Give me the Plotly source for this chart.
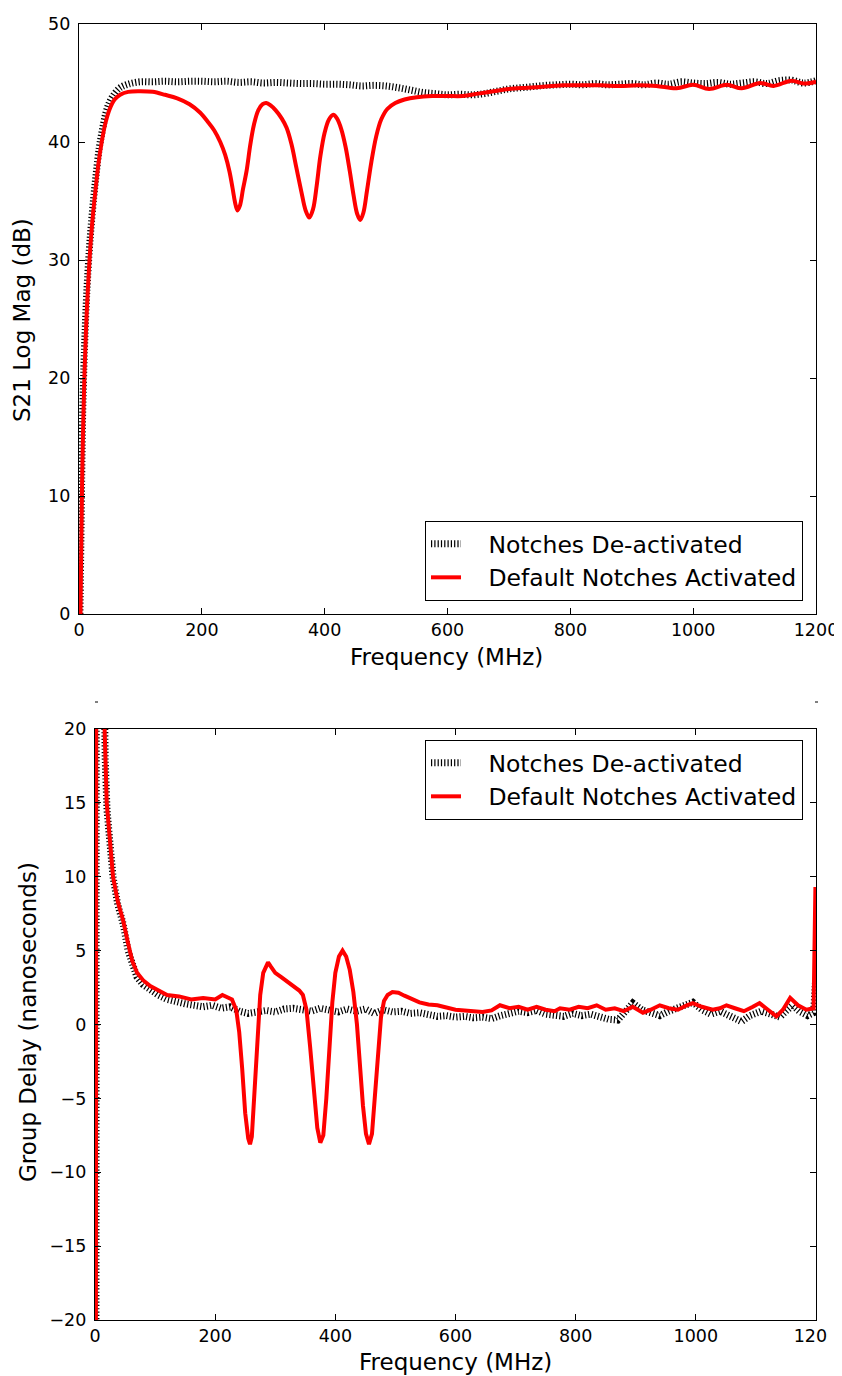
import plotly.graph_objects as go

# S21 magnitude, notches de-activated (MHz, dB)
mag_off_freq = [1.5, 3, 4.5, 6, 8, 10, 12, 14, 17, 20, 24, 28, 33, 38, 44, 50, 58, 67, 80, 99,
                120, 140, 160, 180, 200, 220, 240, 260, 280, 300, 320, 340, 360, 380, 400, 420,
                440, 460, 480, 500, 520, 540, 560, 580, 600, 620, 640, 660, 680, 700, 720, 740,
                760, 780, 800, 820, 840, 860, 880, 900, 920, 940, 960, 980, 1000, 1020, 1040,
                1060, 1080, 1100, 1120, 1140, 1160, 1180, 1200]
mag_off_db = [0, 6, 12, 17, 21, 24, 26.5, 28.5, 31, 33, 35.3, 37.3, 39.5, 41, 42.5, 43.4, 44.1,
              44.6, 44.9, 45.1, 45.1, 45.15, 45.1, 45.15, 45.15, 45.1, 45.15, 45.05, 45.1, 45.0,
              45.05, 45.0, 44.95, 44.95, 44.9, 44.9, 44.85, 44.75, 44.8, 44.75, 44.6, 44.4, 44.2,
              44.1, 44.0, 44.05, 44.0, 44.1, 44.3, 44.5, 44.6, 44.7, 44.8, 44.85, 44.9, 44.85,
              44.95, 44.85, 44.9, 44.95, 44.85, 45.0, 44.9, 45.1, 45.0, 44.95, 45.05, 44.9, 45.0,
              45.1, 44.95, 45.2, 45.25, 45.0, 45.2]

# S21 magnitude, default notches activated (MHz, dB)
mag_on_freq = [2, 3.5, 5, 7, 9, 11, 13, 16, 19, 23, 27, 32, 37, 43, 50, 58, 67, 80, 100, 120,
               140, 160, 180, 197, 210, 220, 230, 238, 245, 250, 254, 258, 262, 267, 273, 279,
               285, 292, 299, 305, 312, 320, 330, 338, 346, 354, 362, 369, 375, 381, 387, 393,
               400, 407, 414, 420, 427, 434, 441, 447, 453, 458, 463, 469, 476, 484, 492, 502,
               515, 530, 550, 575, 600, 625, 650, 675, 700, 730, 760, 790, 820, 850, 880, 910,
               940, 973, 1000, 1026, 1055, 1079, 1109, 1131, 1160, 1180, 1200]
mag_on_db = [-2, 5, 11, 16.5, 20.5, 23.5, 26, 29, 31.5, 34, 36, 38.3, 40, 41.6, 42.8, 43.6, 44.0,
             44.25, 44.3, 44.25, 44.0, 43.7, 43.2, 42.5, 41.7, 41.0, 40.0, 38.9, 37.5, 36.1,
             34.9, 34.2, 34.6, 36.0, 37.6, 39.8, 41.5, 42.7, 43.2, 43.3, 43.1, 42.7, 42.0, 41.2,
             39.8, 37.8, 35.8, 34.2, 33.6, 34.3, 36.3, 38.8, 40.8, 41.9, 42.3, 42.0, 41.1, 39.6,
             37.5, 35.5, 33.9, 33.4, 34.0, 35.9, 38.3, 40.5, 41.9, 42.8, 43.3, 43.6, 43.8, 43.9,
             43.9, 43.9, 44.1, 44.3, 44.5, 44.6, 44.7, 44.8, 44.8, 44.8, 44.75, 44.8, 44.75,
             44.55, 44.85, 44.5, 44.85, 44.55, 45.0, 44.75, 45.2, 44.95, 45.1]

# group delay, notches de-activated (MHz, ns)
gd_off_freq = [1.5, 2.5, 8, 14, 17, 20, 25, 30, 38, 47, 55, 62, 70, 80, 92, 105, 120, 135, 150,
               165, 180, 195, 210, 225, 240, 255, 270, 285, 300, 315, 330, 345, 360, 375, 390,
               405, 420, 435, 450, 465, 480, 495, 510, 525, 540, 555, 570, 585, 600, 615, 630,
               645, 660, 675, 690, 705, 720, 735, 750, 765, 780, 795, 810, 825, 840, 855, 870,
               885, 895, 910, 925, 940, 955, 970, 985, 995, 1010, 1025, 1040, 1055, 1065, 1076,
               1090, 1109, 1125, 1140, 1150, 1161, 1172, 1186, 1196, 1199]
gd_off_ns = [-30, 60, 45, 22, 18, 14.5, 12, 10, 8.1, 6.8, 5.0, 4.0, 3.2, 2.7, 2.3, 2.0, 1.7, 1.5,
             1.4, 1.3, 1.2, 1.3, 1.1, 1.2, 0.9, 0.75, 0.8, 0.95, 0.85, 1.05, 1.1, 1.0, 0.9, 1.1,
             1.0, 0.85, 1.05, 0.9, 1.05, 0.75, 1.0, 0.85, 0.9, 0.75, 0.8, 0.65, 0.55, 0.6, 0.5,
             0.55, 0.45, 0.5, 0.4, 0.6, 0.75, 0.9, 0.8, 0.95, 0.7, 0.6, 0.55, 0.75, 0.6, 0.7,
             0.5, 0.35, 0.3, 0.9, 1.45, 1.0, 0.8, 0.6, 0.9, 1.1, 1.4, 1.5, 1.0, 0.7, 0.9, 0.6,
             0.4, 0.2, 0.6, 0.9, 0.7, 0.5, 0.9, 1.3, 0.9, 0.6, 0.8, 2.8]

# group delay, default notches activated (MHz, ns)
gd_on_freq = [1.5, 2.5, 10, 16, 19.5, 24, 30, 38, 47, 55, 62, 70, 80, 92, 105, 120, 140, 160, 180,
              200, 212, 218, 228, 235, 240, 245, 250, 255, 258, 261, 265, 270, 275, 280, 288, 293,
              300, 310, 320, 330, 340, 346, 352, 358, 364, 370, 375, 380, 385, 390, 395, 400, 406,
              412, 418, 424, 430, 436, 441, 446, 451, 456, 461, 466, 471, 476, 481, 487, 495, 505,
              515, 525, 540, 555, 570, 585, 600, 615, 630, 645, 660, 674, 690, 705, 720, 735, 750,
              765, 774, 790, 805, 820, 835, 850, 865, 880, 895, 912, 925, 940, 955, 970, 985, 995,
              1010, 1028, 1040, 1051, 1065, 1080, 1095, 1106, 1120, 1134, 1145, 1157, 1170, 1184,
              1196, 1199]
gd_on_ns = [-25, 60, 40, 20, 15, 12.5, 10, 8.3, 7.0, 5.5, 4.3, 3.5, 3.0, 2.6, 2.3, 2.0, 1.9, 1.7,
            1.8, 1.7, 2.0, 1.9, 1.7, 1.0, -0.5, -3, -6, -7.7, -8.1, -7.6, -5, -1, 2.0, 3.5, 4.2,
            3.9, 3.5, 3.2, 2.9, 2.6, 2.3, 2.0, 1.0, -1.5, -4.5, -7, -8.0, -7.5, -5, -1.5, 1.5,
            3.5, 4.6, 5.0, 4.6, 3.7, 2.2, 0, -2.8, -5.5, -7.4, -8.1, -7.4, -5, -2, 0.5, 1.6, 2.0,
            2.2, 2.15, 1.95, 1.75, 1.5, 1.35, 1.3, 1.15, 1.0, 0.95, 0.9, 0.85, 0.95, 1.3, 1.1,
            1.2, 1.0, 1.2, 1.0, 0.9, 1.1, 1.0, 1.2, 1.1, 1.3, 1.0, 1.1, 0.9, 1.2, 0.8, 1.0, 1.3,
            1.1, 1.0, 1.3, 1.45, 1.2, 1.0, 1.1, 1.3, 1.1, 0.9, 1.2, 1.45, 1.0, 0.55, 1.0, 1.8,
            1.3, 1.0, 1.1, 9.3]

legend_names = ["\u00a0\u00a0\u00a0Notches De-activated",
                "\u00a0\u00a0\u00a0Default Notches Activated"]

FONT = "DejaVu Sans"
W, H = 842, 1376
OFF = 8  # page body margin: the figure lands 8px right/down in the screenshot

fig = go.Figure()

# hatched black band: wide line with very short dashes
hatch = dict(color="black", width=7, dash="1.2px,2.1px")
red = dict(color="red", width=4)

fig.add_trace(go.Scatter(x=mag_off_freq, y=mag_off_db, mode="lines", line=hatch,
                         line_shape="spline", name=legend_names[0],
                         xaxis="x", yaxis="y", legend="legend"))
fig.add_trace(go.Scatter(x=mag_on_freq, y=mag_on_db, mode="lines", line=red,
                         line_shape="spline", name=legend_names[1],
                         xaxis="x", yaxis="y", legend="legend"))
fig.add_trace(go.Scatter(x=gd_off_freq, y=gd_off_ns, mode="lines", line=hatch,
                         name=legend_names[0],
                         xaxis="x2", yaxis="y2", legend="legend2"))
fig.add_trace(go.Scatter(x=gd_on_freq, y=gd_on_ns, mode="lines", line=red,
                         name=legend_names[1],
                         xaxis="x2", yaxis="y2", legend="legend2"))

axis_style = dict(showline=True, linecolor="black", linewidth=1.2, mirror="ticks",
                  ticks="inside", ticklen=6, tickcolor="black", showgrid=False,
                  zeroline=False, automargin=False,
                  tickfont=dict(family=FONT, size=17.5, color="black"))


def px_x(p):
    return (p - OFF) / W


def px_y(p):
    return 1 - (p - OFF) / H


# tiny stray dashes above the lower panel and a white patch clipping the last tick label
shapes = [
    dict(type="line", xref="paper", yref="paper", x0=px_x(95), x1=px_x(98),
         y0=px_y(702), y1=px_y(702), line=dict(color="black", width=1)),
    dict(type="line", xref="paper", yref="paper", x0=px_x(815), x1=px_x(818),
         y0=px_y(702), y1=px_y(702), line=dict(color="black", width=1)),
    dict(type="rect", xref="paper", yref="paper", x0=px_x(828), x1=px_x(850),
         y0=px_y(1346), y1=px_y(1324), fillcolor="white", line=dict(width=0),
         layer="above"),
]

title_font = dict(family=FONT, size=23, color="black")
legend_style = dict(bgcolor="white", bordercolor="black", borderwidth=1,
                    font=dict(family=FONT, size=23.5), tracegroupgap=0)

fig.update_layout(
    width=W, height=H,
    margin=dict(l=0, r=0, t=0, b=0),
    paper_bgcolor="white", plot_bgcolor="white",
    font=dict(family=FONT, color="black"),
    xaxis=dict(axis_style, domain=[px_x(79), px_x(816)], range=[0, 1200],
               tickvals=[0, 200, 400, 600, 800, 1000, 1200], anchor="y"),
    yaxis=dict(axis_style, domain=[px_y(614), px_y(24)], range=[0, 50],
               tickvals=[0, 10, 20, 30, 40, 50], anchor="x", ticklabelstandoff=4),
    xaxis2=dict(axis_style, domain=[px_x(95), px_x(816)], range=[0, 1200],
                tickvals=[0, 200, 400, 600, 800, 1000, 1200], anchor="y2"),
    yaxis2=dict(axis_style, domain=[px_y(1320), px_y(729)], range=[-20, 20],
                tickvals=[-20, -15, -10, -5, 0, 5, 10, 15, 20], anchor="x2",
                ticklabelstandoff=4),
    legend=dict(legend_style, x=px_x(803), y=px_y(601), xanchor="right", yanchor="bottom"),
    legend2=dict(legend_style, x=px_x(803), y=px_y(740), xanchor="right", yanchor="top"),
    shapes=shapes,
    annotations=[
        dict(text="Frequency (MHz)", x=px_x(447), y=px_y(657), xref="paper", yref="paper",
             xanchor="center", yanchor="middle", showarrow=False, font=title_font),
        dict(text="S21 Log Mag (dB)", x=px_x(22), y=px_y(320), xref="paper", yref="paper",
             xanchor="center", yanchor="middle", showarrow=False, textangle=-90,
             font=title_font),
        dict(text="Frequency (MHz)", x=px_x(455), y=px_y(1362), xref="paper", yref="paper",
             xanchor="center", yanchor="middle", showarrow=False, font=title_font),
        dict(text="Group Delay (nanoseconds)", x=px_x(28), y=px_y(1022), xref="paper",
             yref="paper", xanchor="center", yanchor="middle", showarrow=False,
             textangle=-90, font=title_font),
    ],
)

fig.write_html("out.html")
